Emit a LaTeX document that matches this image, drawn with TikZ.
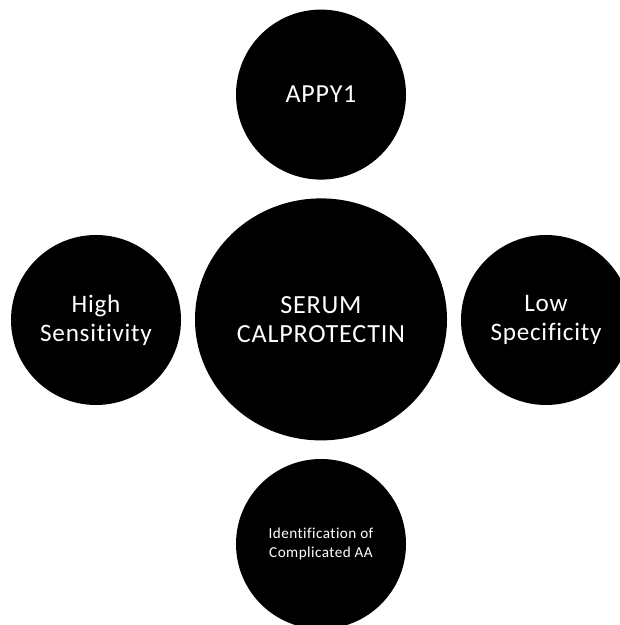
\documentclass[tikz,border=0pt]{standalone}
\usepackage{fontspec}
\setmainfont{Carlito}[Ligatures=NoCommon, LetterSpace=3]
\usepackage{tikz}
\usetikzlibrary{positioning, shapes.geometric}

\begin{document}
\begin{tikzpicture}[
    bubble/.style={circle, fill=black, draw=none, minimum size=4.25cm, inner sep=0pt, text=white, align=center, font=\fontsize{18.5}{20.6}\selectfont},
    hub/.style={ellipse, fill=black, draw=none, minimum width=6.3cm, minimum height=6.05cm, inner sep=0pt, text=white, align=center, font=\fontsize{18.6}{20.6}\selectfont},
    side/.style={font=\fontsize{17.9}{20.6}\selectfont},
    small/.style={font=\fontsize{10.8}{13.5}\selectfont}
]

% Page size of the reference
\useasboundingbox (0,0) rectangle (15.475,15.625);

% Centre
\node[hub] (serum) at (8.025,7.64) {SERUM\\CALPROTECTIN};

% Top
\node[bubble] (appy) at (8.025,13.26) {APPY1};

% Left and right
\node[bubble, side] (high) at (2.4,7.625) {High\\Sensitivity};
\node[bubble, side] (low) at (13.65,7.625) {Low\\Specificity};

% Bottom
\node[bubble, small] (ident) at (8.025,2.025) {Identification of\\Complicated AA};

\end{tikzpicture}
\end{document}
